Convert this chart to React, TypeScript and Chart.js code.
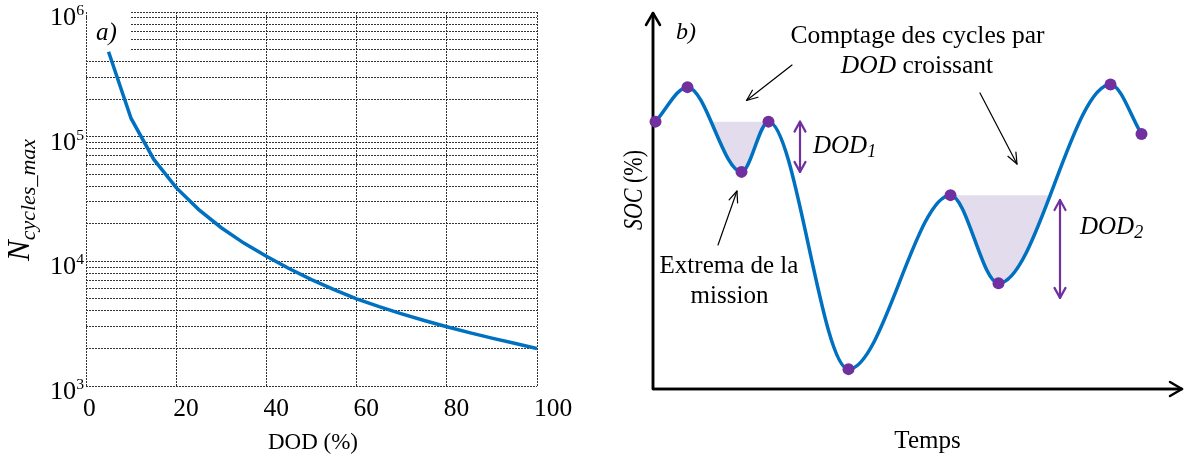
import React, { useEffect, useRef } from 'react';
import { Chart, registerables } from 'chart.js';
Chart.register(...registerables);

// ---------- Panel a) : N_cycles_max vs DOD ----------
const dodPercent = [5, 10, 15, 20, 25, 30, 35, 40, 45, 50, 55, 60, 65, 70, 75, 80, 85, 90, 95, 100];
const cyclesMax = [480000, 140000, 66000, 39000, 26000, 18600, 14000, 11000, 8750, 7130, 5930, 5000, 4330, 3790, 3350, 2990, 2680, 2420, 2200, 2000];
const xTickValues = [0, 20, 40, 60, 80, 100];
const yDecadeExponents = [3, 4, 5, 6];
const yMinorMultipliers = [1, 2, 3, 4, 5, 6, 7, 8, 9];

// ---------- Panel b) : SOC mission profile ----------
const timeValues = [0.5, 6.9, 17.7, 23.1, 39.1, 59.5, 69.1, 91.5, 97.7];
const socValues = [71.3, 80.5, 57.9, 71.3, 5.3, 51.7, 28.2, 81.2, 68.0];
const cycle1Time = [11.8, 23.1];
const cycle1Level = 71.3;
const cycle2Time = [59.5, 79.4];
const cycle2Level = 51.7;
const dodArrowTime = [29.4, 81.4];
const dodArrowTop = [71.3, 50.4];
const dodArrowBottom = [57.9, 24.3];
const dodIndex = ['1', '2'];

const SERIF = '"Liberation Serif", "Times New Roman", serif';
const BLUE = '#0070c0';
const PURPLE = '#7030a0';
const SHADE = 'rgba(190,178,214,0.45)';

type Seg = { t: string; italic?: boolean; size: number; dy?: number };

function drawRich(
  ctx: CanvasRenderingContext2D,
  segs: Seg[],
  x: number,
  y: number,
  align: 'left' | 'center' | 'right' = 'left',
  rot = 0,
  sx = 1,
  color = '#000'
) {
  ctx.save();
  ctx.translate(x, y);
  ctx.scale(sx, 1);
  ctx.rotate(rot);
  ctx.fillStyle = color;
  ctx.textBaseline = 'alphabetic';
  ctx.textAlign = 'left';
  const fontOf = (s: Seg) => `${s.italic ? 'italic ' : ''}${s.size}px ${SERIF}`;
  let w = 0;
  const ws = segs.map((s) => {
    ctx.font = fontOf(s);
    const m = ctx.measureText(s.t).width;
    w += m;
    return m;
  });
  let cx = align === 'left' ? 0 : align === 'center' ? -w / 2 : -w;
  segs.forEach((s, i) => {
    ctx.font = fontOf(s);
    ctx.fillText(s.t, cx, s.dy || 0);
    cx += ws[i];
  });
  ctx.restore();
}

function arrowHead(ctx: CanvasRenderingContext2D, x1: number, y1: number, x2: number, y2: number, len: number, half: number) {
  const a = Math.atan2(y2 - y1, x2 - x1);
  const ux = Math.cos(a), uy = Math.sin(a);
  const bx = x2 - ux * len, by = y2 - uy * len;
  ctx.beginPath();
  ctx.moveTo(bx - uy * half, by + ux * half);
  ctx.lineTo(x2, y2);
  ctx.lineTo(bx + uy * half, by - ux * half);
  ctx.stroke();
}

function arrow(ctx: CanvasRenderingContext2D, x1: number, y1: number, x2: number, y2: number, color: string, lw: number, len: number, half: number, both = false) {
  ctx.save();
  ctx.strokeStyle = color;
  ctx.lineWidth = lw;
  ctx.lineCap = 'round';
  ctx.lineJoin = 'round';
  ctx.beginPath();
  ctx.moveTo(x1, y1);
  ctx.lineTo(x2, y2);
  ctx.stroke();
  arrowHead(ctx, x1, y1, x2, y2, len, half);
  if (both) arrowHead(ctx, x2, y2, x1, y1, len, half);
  ctx.restore();
}

const leftPlugin = {
  id: 'leftDecor',
  beforeDatasetsDraw(chart: any) {
    const ctx = chart.ctx as CanvasRenderingContext2D;
    ctx.save();
    ctx.fillStyle = '#fff';
    ctx.fillRect(87, 9, 44, 47);
    ctx.restore();
    drawRich(ctx, [{ t: 'a)', italic: true, size: 25 }], 96, 40);
  },
  afterDraw(chart: any) {
    const ctx = chart.ctx as CanvasRenderingContext2D;
    const xs = chart.scales.x;
    const ys = chart.scales.y;
    yDecadeExponents.forEach((e) => {
      const py = ys.getPixelForValue(Math.pow(10, e));
      drawRich(ctx, [{ t: '10', size: 25 }, { t: String(e), size: 15, dy: -10 }], 84, py + 13, 'right', 0, 1.05);
    });
    xTickValues.forEach((v) => {
      const px = xs.getPixelForValue(v);
      drawRich(ctx, [{ t: String(v), size: 25 }], px - 3, 416, 'left', 0, 1.02);
    });
    drawRich(ctx, [{ t: 'DOD (%)', size: 23 }], 313, 449, 'center');
    drawRich(
      ctx,
      [
        { t: 'N', italic: true, size: 31 },
        { t: 'cycles_max', italic: true, size: 22, dy: 6 },
      ],
      29,
      261,
      'left',
      -Math.PI / 2
    );
  },
};

const rightPlugin = {
  id: 'rightDecor',
  beforeDatasetsDraw(chart: any) {
    const ctx = chart.ctx as CanvasRenderingContext2D;
    const a = chart.chartArea;
    ctx.save();
    ctx.strokeStyle = '#000';
    ctx.lineWidth = 2.5;
    ctx.beginPath();
    ctx.moveTo(a.left, a.bottom);
    ctx.lineTo(a.left, a.top - 1);
    ctx.moveTo(a.left, a.bottom);
    ctx.lineTo(a.right + 9, a.bottom);
    ctx.stroke();
    ctx.restore();
    arrow(ctx, a.left, a.bottom, a.left, a.top - 1, '#000', 2.5, 12, 7);
    arrow(ctx, a.left, a.bottom, a.right + 9, a.bottom, '#000', 2.5, 12, 7);
  },
  afterDraw(chart: any) {
    const ctx = chart.ctx as CanvasRenderingContext2D;
    const xs = chart.scales.x;
    const ys = chart.scales.y;
    // DOD arrows
    dodArrowTime.forEach((t, i) => {
      const px = xs.getPixelForValue(t);
      arrow(ctx, px, ys.getPixelForValue(dodArrowTop[i]), px, ys.getPixelForValue(dodArrowBottom[i]), PURPLE, 2.2, 10, 5.5, true);
    });
    drawRich(ctx, [{ t: 'DOD', italic: true, size: 25 }, { t: dodIndex[0], italic: true, size: 18, dy: 4 }], 233, 153);
    drawRich(ctx, [{ t: 'DOD', italic: true, size: 25 }, { t: dodIndex[1], italic: true, size: 18, dy: 4 }], 500, 234);
    // texts
    drawRich(ctx, [{ t: 'b)', italic: true, size: 24 }], 96, 39);
    drawRich(ctx, [{ t: 'Comptage des cycles par', size: 25.5 }], 337.5, 43, 'center');
    drawRich(ctx, [{ t: 'DOD', italic: true, size: 25.5 }, { t: ' croissant', size: 25.5 }], 337, 73, 'center');
    drawRich(ctx, [{ t: 'Extrema de la', size: 25 }], 149, 273, 'center');
    drawRich(ctx, [{ t: 'mission', size: 25 }], 149.5, 303, 'center');
    drawRich(ctx, [{ t: 'SOC', italic: true, size: 22 }, { t: ' (%)', size: 22 }], 62, 190, 'center', -Math.PI / 2, 1.2);
    drawRich(ctx, [{ t: 'Temps', size: 25 }], 347.5, 448, 'center');
    // annotation arrows
    arrow(ctx, 212, 65, 166.5, 100.5, '#000', 1.2, 11, 4.5);
    arrow(ctx, 400, 93, 437, 164, '#000', 1.2, 11, 4.5);
    arrow(ctx, 138, 245, 157, 191, '#000', 1.2, 11, 4.5);
  },
};

export default function App() {
  const leftRef = useRef<HTMLCanvasElement>(null);
  const rightRef = useRef<HTMLCanvasElement>(null);

  useEffect(() => {
    const gridCommon = { color: '#333', lineWidth: 1, drawTicks: false };
    const left = new Chart(leftRef.current as HTMLCanvasElement, {
      type: 'line',
      data: {
        datasets: [
          {
            data: dodPercent.map((d, i) => ({ x: d, y: cyclesMax[i] })),
            borderColor: BLUE,
            borderWidth: 3.5,
            pointRadius: 0,
            tension: 0,
            fill: false,
          },
        ],
      },
      options: {
        animation: false,
        responsive: false,
        devicePixelRatio: 1,
        events: [],
        layout: { padding: { top: 12, right: 43, left: 0, bottom: 0 } },
        plugins: { legend: { display: false }, tooltip: { enabled: false }, title: { display: false } },
        scales: {
          x: {
            type: 'linear',
            min: 0,
            max: 100,
            ticks: { display: false, stepSize: 20 },
            grid: gridCommon,
            border: { display: false, dash: [2, 1] },
            afterFit: (s: any) => {
              s.height = 70;
            },
          },
          y: {
            type: 'logarithmic',
            min: 1000,
            max: 1000000,
            ticks: { display: false },
            grid: gridCommon,
            border: { display: false, dash: [2, 1] },
            afterBuildTicks: (s: any) => {
              const ticks: any[] = [];
              yDecadeExponents.slice(0, -1).forEach((e) => {
                yMinorMultipliers.forEach((m) => ticks.push({ value: m * Math.pow(10, e) }));
              });
              ticks.push({ value: Math.pow(10, yDecadeExponents[yDecadeExponents.length - 1]) });
              s.ticks = ticks;
            },
            afterFit: (s: any) => {
              s.width = 86;
            },
          },
        },
      } as any,
      plugins: [leftPlugin],
    });

    const right = new Chart(rightRef.current as HTMLCanvasElement, {
      type: 'line',
      data: {
        datasets: [
          {
            data: timeValues.map((t, i) => ({ x: t, y: socValues[i] })),
            borderColor: BLUE,
            borderWidth: 3.5,
            cubicInterpolationMode: 'monotone',
            pointRadius: 6,
            pointBackgroundColor: PURPLE,
            pointBorderWidth: 0,
            clip: false,
            fill: false,
          },
          {
            data: cycle1Time.map((t) => ({ x: t, y: cycle1Level })),
            borderWidth: 0,
            borderColor: 'rgba(0,0,0,0)',
            pointRadius: 0,
            backgroundColor: SHADE,
            fill: { target: 0 },
          },
          {
            data: cycle2Time.map((t) => ({ x: t, y: cycle2Level })),
            borderWidth: 0,
            borderColor: 'rgba(0,0,0,0)',
            pointRadius: 0,
            backgroundColor: SHADE,
            fill: { target: 0 },
          },
        ],
      },
      options: {
        animation: false,
        responsive: false,
        devicePixelRatio: 1,
        events: [],
        layout: { padding: { top: 14, right: 11, left: 73, bottom: 67 } },
        plugins: { legend: { display: false }, tooltip: { enabled: false }, title: { display: false } },
        scales: {
          x: { type: 'linear', min: 0, max: 104, display: false },
          y: { type: 'linear', min: 0, max: 100, display: false },
        },
      } as any,
      plugins: [rightPlugin],
    });

    return () => {
      left.destroy();
      right.destroy();
    };
  }, []);

  return (
    <div style={{ position: 'fixed', left: 0, top: 0, width: 1184, height: 456, background: '#fff', overflow: 'hidden' }}>
      <canvas ref={leftRef} width={580} height={456} style={{ position: 'absolute', left: 0, top: 0, width: 580, height: 456 }} />
      <canvas ref={rightRef} width={604} height={456} style={{ position: 'absolute', left: 580, top: 0, width: 604, height: 456 }} />
    </div>
  );
}
